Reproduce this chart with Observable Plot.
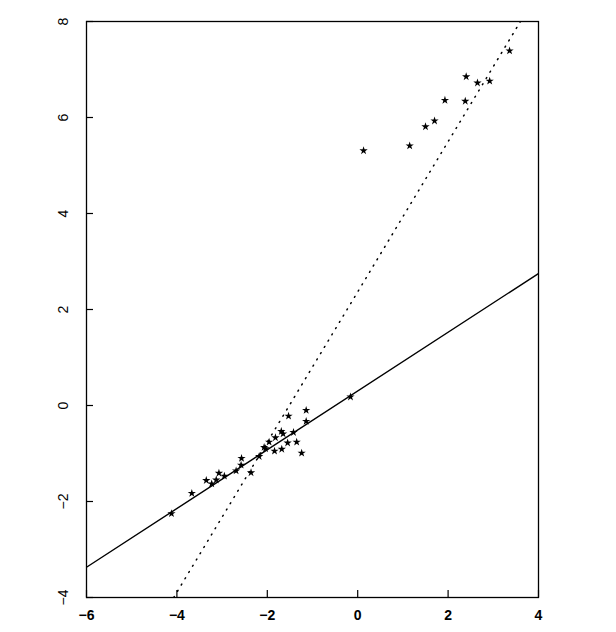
<!DOCTYPE html>
<html>
<head>
<meta charset="utf-8">
<script src="https://cdn.jsdelivr.net/npm/d3@7"></script>
<script src="https://cdn.jsdelivr.net/npm/@observablehq/plot@0.6"></script>
<style>
  html, body { margin: 0; padding: 0; background: #fff; }
  #chart svg { display: block; }
</style>
</head>
<body>
<div id="chart"></div>
<script>
const pointX = [-4.12, -3.67, -3.35, -3.23, -3.13, -3.07, -2.95, -2.69, -2.58, -2.57, -2.36, -2.18, -2.07, -2.04, -1.96, -1.84, -1.82, -1.69, -1.65, -1.68, -1.55, -1.53, -1.42, -1.35, -1.24, -1.14, -1.14, -0.16,
                0.13, 1.15, 1.50, 1.70, 1.93, 2.38, 2.40, 2.65, 2.92, 3.36];
const pointY = [-2.25, -1.83, -1.56, -1.63, -1.55, -1.41, -1.47, -1.36, -1.24, -1.10, -1.40, -1.06, -0.87, -0.90, -0.76, -0.95, -0.67, -0.54, -0.59, -0.91, -0.78, -0.22, -0.56, -0.76, -0.99, -0.10, -0.33, 0.18,
                5.31, 5.41, 5.81, 5.93, 6.36, 6.34, 6.85, 6.72, 6.76, 7.39];
const solidX = [-6, 4];
const solidY = [-3.37, 2.75];
const dottedX = [-4.07, 3.6];
const dottedY = [-4, 8];
const xTicks = [-6, -4, -2, 0, 2, 4];
const yTicks = [-4, -2, 0, 2, 4, 6, 8];

const points = pointX.map((x, i) => ({x, y: pointY[i]}));
const solid = solidX.map((x, i) => ({x, y: solidY[i]}));
const dotted = dottedX.map((x, i) => ({x, y: dottedY[i]}));

const W = 616, H = 632, ML = 86, MR = 78, MT = 21, MB = 35, TICK = 7;

const chart = Plot.plot({
  width: W,
  height: H,
  marginLeft: ML,
  marginRight: MR,
  marginTop: MT,
  marginBottom: MB,
  style: {fontFamily: "'Liberation Sans', Arial, sans-serif", fontSize: "14px", color: "#000", background: "#fff"},
  x: {domain: [-6, 4], ticks: xTicks},
  y: {domain: [-4, 8], ticks: yTicks},
  marks: [
    Plot.frame({stroke: "#000", strokeWidth: 1.3}),
    Plot.axisX({ticks: xTicks, tickSize: 0, tickPadding: 13, label: null, fontSize: 14, fontWeight: "bold"}),
    Plot.axisY({ticks: yTicks, tickSize: 0, tickPadding: 19, tickRotate: -90, label: null, fontSize: 14}),
    // inward tick marks
    Plot.tickX(xTicks, {x: d => d, stroke: "#000", strokeWidth: 1.2, insetTop: (H - MT - MB) - TICK}),
    Plot.tickY(yTicks, {y: d => d, stroke: "#000", strokeWidth: 1.2, insetRight: (W - ML - MR) - TICK}),
    Plot.line(solid, {x: "x", y: "y", stroke: "#000", strokeWidth: 1.4, clip: true}),
    Plot.line(dotted, {x: "x", y: "y", stroke: "#000", strokeWidth: 1.5, strokeDasharray: "1,6.3", strokeLinecap: "round", clip: true}),
    Plot.dot(points, {x: "x", y: "y", symbol: "star", r: 2.6, fill: "#000", stroke: "none"})
  ]
});
document.getElementById("chart").append(chart);
</script>
</body>
</html>
